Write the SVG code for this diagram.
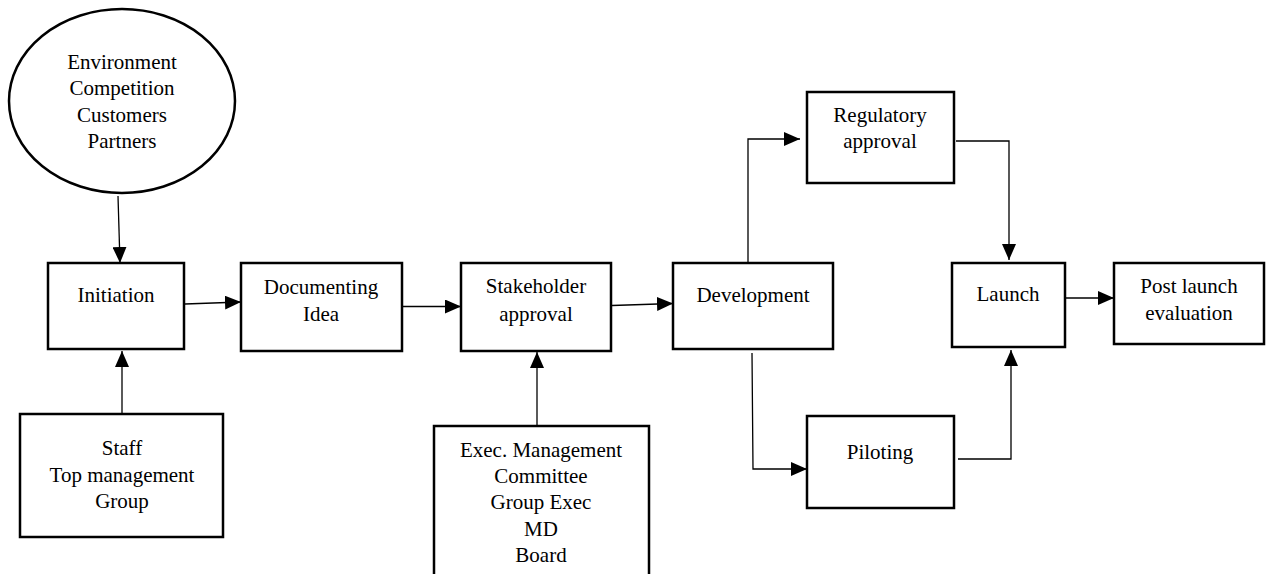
<svg xmlns="http://www.w3.org/2000/svg" width="1266" height="574" viewBox="0 0 1266 574">
  <style>
    .box { fill: #fff; stroke: #000; stroke-width: 2.5; }
    .lbl { font-family: "Liberation Serif", "Times New Roman", serif; font-size: 21px; fill: #000; text-anchor: middle; }
    .conn { fill: none; stroke: #000; stroke-width: 1.3; marker-end: url(#arrow); }
  </style>
  <defs>
    <marker id="arrow" markerUnits="userSpaceOnUse" markerWidth="16" markerHeight="14" viewBox="0 0 16 14" refX="16" refY="7" orient="auto">
      <path d="M0,0 L16,7 L0,14 Z" fill="#000"/>
    </marker>
  </defs>
  <rect width="1266" height="574" fill="#fff"/>

  <!-- connectors -->
  <g id="connectors">
    <path class="conn" d="M118,196 L120,263"/>
    <path class="conn" d="M122,414 L122,351"/>
    <path class="conn" d="M185,304 L241,302"/>
    <path class="conn" d="M403,306.5 L461,306.5"/>
    <path class="conn" d="M612,305.5 L673,303.5"/>
    <path class="conn" d="M537,425 L537,352"/>
    <path class="conn" d="M748,262 L748,139 L800,139"/>
    <path class="conn" d="M752,353 L753,469 L807,469"/>
    <path class="conn" d="M956,141 L1009,141 L1009,260"/>
    <path class="conn" d="M958,459 L1011,459 L1011,350"/>
    <path class="conn" d="M1065,298 L1114,298"/>
  </g>

  <g id="forces">
    <ellipse class="box" cx="122" cy="101" rx="113" ry="92" stroke-width="2.2"/>
    <text class="lbl" x="122" y="69">Environment</text>
    <text class="lbl" x="122" y="95">Competition</text>
    <text class="lbl" x="122" y="122">Customers</text>
    <text class="lbl" x="122" y="148">Partners</text>
  </g>

  <g id="initiation">
    <rect class="box" x="48" y="263" width="136" height="86"/>
    <text class="lbl" x="116" y="302">Initiation</text>
  </g>

  <g id="staff">
    <rect class="box" x="20" y="414" width="203" height="123"/>
    <text class="lbl" x="122" y="455">Staff</text>
    <text class="lbl" x="122" y="482">Top management</text>
    <text class="lbl" x="122" y="508">Group</text>
  </g>

  <g id="documenting">
    <rect class="box" x="241" y="263" width="161" height="88"/>
    <text class="lbl" x="321" y="294">Documenting</text>
    <text class="lbl" x="321" y="321">Idea</text>
  </g>

  <g id="stakeholder">
    <rect class="box" x="461" y="263" width="150" height="88"/>
    <text class="lbl" x="536" y="293">Stakeholder</text>
    <text class="lbl" x="536" y="321">approval</text>
  </g>

  <g id="executives">
    <rect class="box" x="434" y="426" width="215" height="160"/>
    <text class="lbl" x="541" y="457">Exec. Management</text>
    <text class="lbl" x="541" y="483">Committee</text>
    <text class="lbl" x="541" y="509">Group Exec</text>
    <text class="lbl" x="541" y="536">MD</text>
    <text class="lbl" x="541" y="562">Board</text>
  </g>

  <g id="development">
    <rect class="box" x="673" y="263" width="160" height="86"/>
    <text class="lbl" x="753" y="302">Development</text>
  </g>

  <g id="regulatory">
    <rect class="box" x="807" y="92" width="147" height="91"/>
    <text class="lbl" x="880" y="122">Regulatory</text>
    <text class="lbl" x="880" y="148">approval</text>
  </g>

  <g id="piloting">
    <rect class="box" x="807" y="416" width="147" height="92"/>
    <text class="lbl" x="880" y="459">Piloting</text>
  </g>

  <g id="launch">
    <rect class="box" x="952" y="263" width="113" height="84"/>
    <text class="lbl" x="1008" y="301">Launch</text>
  </g>

  <g id="post-launch">
    <rect class="box" x="1114" y="263" width="150" height="81"/>
    <text class="lbl" x="1189" y="293">Post launch</text>
    <text class="lbl" x="1189" y="320">evaluation</text>
  </g>
</svg>
